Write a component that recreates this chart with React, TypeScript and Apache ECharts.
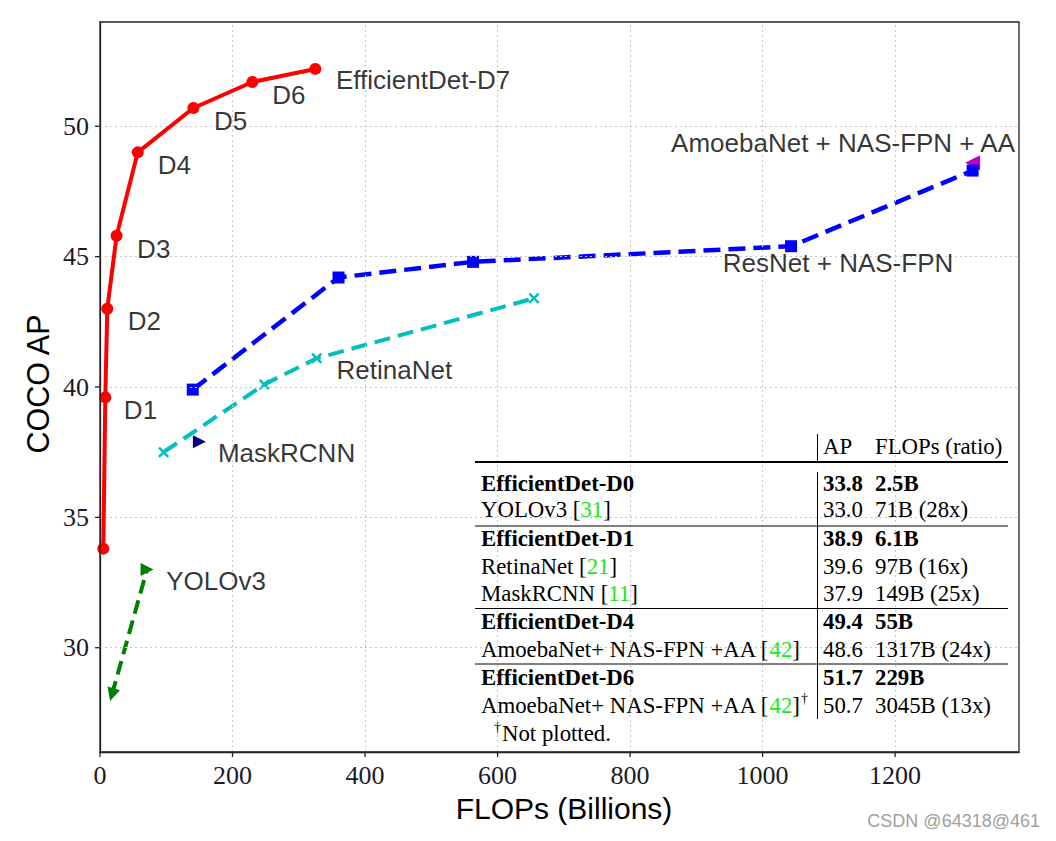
import React, { useEffect, useRef } from 'react';
import * as echarts from 'echarts';

// ---------- data ----------
const effDetNames = ['D0', 'D1', 'D2', 'D3', 'D4', 'D5', 'D6', 'D7'];
const effDetFlops = [5, 8, 11, 25, 57, 141, 230, 325];
const effDetAP = [33.8, 39.6, 43.0, 45.8, 49.0, 50.7, 51.7, 52.2];

const resnetFlops = [140, 360, 563, 1043, 1317];
const resnetAP = [39.9, 44.2, 44.8, 45.4, 48.3];

const retinaFlops = [96, 248, 327, 655];
const retinaAP = [37.5, 40.1, 41.1, 43.4];

const maskFlops = [150];
const maskAP = [37.9];

const yoloFlops = [18, 71];
const yoloAP = [28.2, 33.0];

const amoebaFlops = [1317];
const amoebaAP = [48.6];

const xTicks = [0, 200, 400, 600, 800, 1000, 1200];
const yTicks = [30, 35, 40, 45, 50];
const xTitle = 'FLOPs (Billions)';
const yTitle = 'COCO AP';

// annotation labels: text, x, y, align
const annoText = ['EfficientDet-D7', 'D6', 'D5', 'D4', 'D3', 'D2', 'D1', 'AmoebaNet + NAS-FPN + AA', 'ResNet + NAS-FPN', 'RetinaNet', 'MaskRCNN', 'YOLOv3'];
const annoX = [356, 260, 172, 87, 56, 42, 36, 1381, 940, 357, 178, 100];
const annoY = [51.76, 51.19, 50.19, 48.5, 45.29, 42.53, 39.12, 49.35, 44.75, 40.65, 37.47, 32.54];
const annoAlign = ['left', 'left', 'left', 'left', 'left', 'left', 'left', 'right', 'left', 'left', 'left', 'left'];

// table
const tableHeader = ['AP', 'FLOPs (ratio)'];
const tableModels = ['EfficientDet-D0', 'YOLOv3', 'EfficientDet-D1', 'RetinaNet', 'MaskRCNN', 'EfficientDet-D4', 'AmoebaNet+ NAS-FPN +AA', 'EfficientDet-D6', 'AmoebaNet+ NAS-FPN +AA'];
const tableCites = ['', '31', '', '21', '11', '', '42', '', '42'];
const tableAP = ['33.8', '33.0', '38.9', '39.6', '37.9', '49.4', '48.6', '51.7', '50.7'];
const tableFlops = ['2.5B', '71B (28x)', '6.1B', '97B (16x)', '149B (25x)', '55B', '1317B (24x)', '229B', '3045B (13x)'];
const tableBold = [true, false, true, false, false, true, false, true, false];
const tableFootnote = 'Not plotted.';

const X_MIN = 0, X_MAX = 1387, Y_MIN = 26, Y_MAX = 54;

const zip = (a: number[], b: number[]) => a.map((v, i) => [v, b[i]]);

export default function App() {
  const ref = useRef<HTMLDivElement>(null);
  useEffect(() => {
    document.body.style.margin = '0';
    const chart = echarts.init(ref.current!, undefined, { renderer: 'svg' });

    const serif = 'Liberation Serif';
    const sans = 'Liberation Sans';
    const xCross = 'path://M0,1.6L1.6,0L5,3.4L8.4,0L10,1.6L6.6,5L10,8.4L8.4,10L5,6.6L1.6,10L0,8.4L3.4,5Z';
    const TFS = 22.8;

    // table graphic
    const rowY = [483.5, 509.5, 538.5, 566.5, 593.5, 621, 649, 677.5, 705];
    const colName = 481, colAP = 823, colFl = 875;
    const tbl: any[] = [];
    const txt = (x: number, y: number, text: string, bold = false, size = TFS) => ({
      type: 'text', x, y, silent: true, z: 50,
      style: { text, fill: '#000', font: `${bold ? 'bold ' : ''}${size}px "${serif}"`, textVerticalAlign: 'middle', textAlign: 'left', verticalAlign: 'middle', align: 'left' },
    });
    tbl.push(txt(colAP, 446.5, tableHeader[0]));
    tbl.push(txt(colFl, 446.5, tableHeader[1]));
    tableModels.forEach((m, i) => {
      const b = tableBold[i];
      const fw = b ? 'bold' : 'normal';
      const rich = {
        r: { fontFamily: serif, fontSize: TFS, fontWeight: fw, fill: '#000' },
        g: { fontFamily: serif, fontSize: TFS, fontWeight: fw, fill: '#22e622' },
      };
      const t = tableCites[i] ? `{r|${m} [}{g|${tableCites[i]}}{r|]}` : `{r|${m}}`;
      tbl.push({ type: 'text', x: colName, y: rowY[i], silent: true, z: 50, style: { text: t, rich, textVerticalAlign: 'middle', textAlign: 'left', verticalAlign: 'middle', align: 'left' } });
      tbl.push(txt(colAP, rowY[i], tableAP[i], b));
      tbl.push(txt(colFl, rowY[i], tableFlops[i], b));
    });
    tbl.push(txt(801, 698, '†', false, 14));
    tbl.push(txt(494, 727, '†', false, 14));
    tbl.push(txt(502, 733, tableFootnote));
    const hline = (y: number, w: number) => ({ type: 'line', silent: true, z: 50, shape: { x1: 475, y1: y, x2: 1008, y2: y }, style: { stroke: '#000', lineWidth: w } });
    tbl.push(hline(462, 2));
    tbl.push(hline(526, 1));
    tbl.push(hline(608.5, 1));
    tbl.push(hline(664, 1));
    tbl.push({ type: 'line', silent: true, z: 50, shape: { x1: 817.5, y1: 434, x2: 817.5, y2: 461 }, style: { stroke: '#000', lineWidth: 1 } });
    tbl.push({ type: 'line', silent: true, z: 50, shape: { x1: 817.5, y1: 472, x2: 817.5, y2: 719 }, style: { stroke: '#000', lineWidth: 1 } });

    const baseGraphic: any[] = [
      { type: 'rect', silent: true, z: 60, shape: { x: 100, y: 22, width: 919, height: 730 }, style: { fill: 'none', stroke: '#222', lineWidth: 1.3 } },
      ...tbl,
      { type: 'text', x: 564, y: 808, silent: true, style: { text: xTitle, fill: '#000', font: `30px "${sans}"`, textAlign: 'center', textVerticalAlign: 'middle', align: 'center', verticalAlign: 'middle' } },
      { type: 'text', x: 38, y: 384, rotation: Math.PI / 2, silent: true, style: { text: yTitle, fill: '#000', font: `30.5px "${sans}"`, textAlign: 'center', textVerticalAlign: 'middle', align: 'center', verticalAlign: 'middle' } },
      { type: 'text', right: 16, top: 812, silent: true, style: { text: 'CSDN @64318@461', fill: '#a0a0a0', font: `18px "${sans}"` } },
    ];

    const option: any = {
      animation: false,
      grid: { left: 100, right: 37, top: 22, bottom: 89, show: false },
      xAxis: {
        type: 'value', min: X_MIN, max: X_MAX, interval: 200,
        axisLine: { show: true, onZero: false, lineStyle: { color: '#222', width: 1.3 } },
        axisTick: { show: false },
        axisLabel: { show: false },
        splitLine: { show: false },
      },
      yAxis: {
        type: 'value', min: Y_MIN, max: Y_MAX, splitNumber: 5,
        axisLine: { show: true, onZero: false, lineStyle: { color: '#222', width: 1.3 } },
        axisTick: { show: false },
        axisLabel: { show: false },
        splitLine: { show: false },
      },
      graphic: baseGraphic,
      series: [
        {
          type: 'line', data: [], silent: true, z: 0,
          markLine: {
            silent: true, symbol: ['none', 'none'], label: { show: false },
            lineStyle: { type: [2, 3], color: '#c4c4c4', width: 1 },
            data: [
              ...xTicks.filter(v => v > 0).map(v => ({ xAxis: v })),
              ...yTicks.map(v => ({ yAxis: v })),
            ],
          },
        },
        {
          name: 'EfficientDet', type: 'line', data: zip(effDetFlops, effDetAP), z: 5,
          lineStyle: { color: '#ff0000', width: 4 }, itemStyle: { color: '#ff0000' },
          symbol: 'circle', symbolSize: 12, showAllSymbol: true,
        },
        {
          name: 'AmoebaNet', type: 'scatter', data: zip(amoebaFlops, amoebaAP), z: 3,
          symbol: 'triangle', symbolRotate: 90, symbolSize: 15, itemStyle: { color: '#bf00bf', opacity: 1 },
        },
        {
          name: 'ResNet + NAS-FPN', type: 'line', data: zip(resnetFlops, resnetAP), z: 4,
          lineStyle: { color: '#0000ff', width: 4.5, type: [17, 8] }, itemStyle: { color: '#0000ff' },
          symbol: 'rect', symbolSize: 12, showAllSymbol: true,
        },
        {
          name: 'RetinaNet', type: 'line', data: zip(retinaFlops, retinaAP), z: 4,
          lineStyle: { color: '#00bfbf', width: 4, type: [16, 8] }, itemStyle: { color: '#00bfbf' },
          symbol: xCross, symbolSize: 11, showAllSymbol: true,
        },
        {
          name: 'MaskRCNN', type: 'scatter', data: zip(maskFlops, maskAP), z: 4,
          symbol: 'triangle', symbolRotate: -90, symbolSize: 13, itemStyle: { color: '#000080', opacity: 1 },
        },
        {
          name: 'YOLOv3', type: 'line', data: zip(yoloFlops, yoloAP).map((d, i) => ({ value: d, symbolRotate: i === 0 ? 164 : -90 })), z: 4,
          lineStyle: { color: '#008000', width: 4, type: [14, 7] }, itemStyle: { color: '#008000' },
          symbol: 'triangle', symbolSize: 13, showAllSymbol: true,
        },
        {
          name: 'labels', type: 'scatter', z: 20, silent: true, symbolSize: 0,
          data: annoText.map((t, i) => ({
            name: t, value: [annoX[i], annoY[i]],
            label: { align: annoAlign[i] },
          })),
          label: {
            show: true, position: 'inside', formatter: (p: any) => p.name,
            fontFamily: sans, fontSize: 26, color: '#000', align: 'left', verticalAlign: 'middle',
          },
        },
      ],
    };
    chart.setOption(option);

    // tick marks and tick labels placed through the chart's own scales
    const tickG: any[] = [];
    const tickStyle = { stroke: '#222', lineWidth: 1.3 };
    xTicks.forEach(v => {
      const p = chart.convertToPixel({ gridIndex: 0 }, [v, Y_MIN]) as number[];
      if (!p) return;
      tickG.push({ type: 'line', silent: true, z: 55, shape: { x1: p[0], y1: p[1], x2: p[0], y2: p[1] + 5 }, style: tickStyle });
      tickG.push({ type: 'text', x: p[0], y: p[1] + 10, silent: true, z: 55, style: { text: String(v), fill: '#1a1a2a', font: `26px "${serif}"`, textAlign: 'center', textVerticalAlign: 'top', align: 'center', verticalAlign: 'top' } });
    });
    yTicks.forEach(v => {
      const p = chart.convertToPixel({ gridIndex: 0 }, [X_MIN, v]) as number[];
      if (!p) return;
      tickG.push({ type: 'line', silent: true, z: 55, shape: { x1: p[0] - 5, y1: p[1], x2: p[0], y2: p[1] }, style: tickStyle });
      tickG.push({ type: 'text', x: p[0] - 11, y: p[1], silent: true, z: 55, style: { text: String(v), fill: '#1a1a2a', font: `26px "${serif}"`, textAlign: 'right', textVerticalAlign: 'middle', align: 'right', verticalAlign: 'middle' } });
    });
    chart.setOption({ graphic: [...baseGraphic, ...tickG] }, { replaceMerge: ['graphic'] });

    return () => chart.dispose();
  }, []);
  return <div ref={ref} style={{ width: 1056, height: 841 }} />;
}
